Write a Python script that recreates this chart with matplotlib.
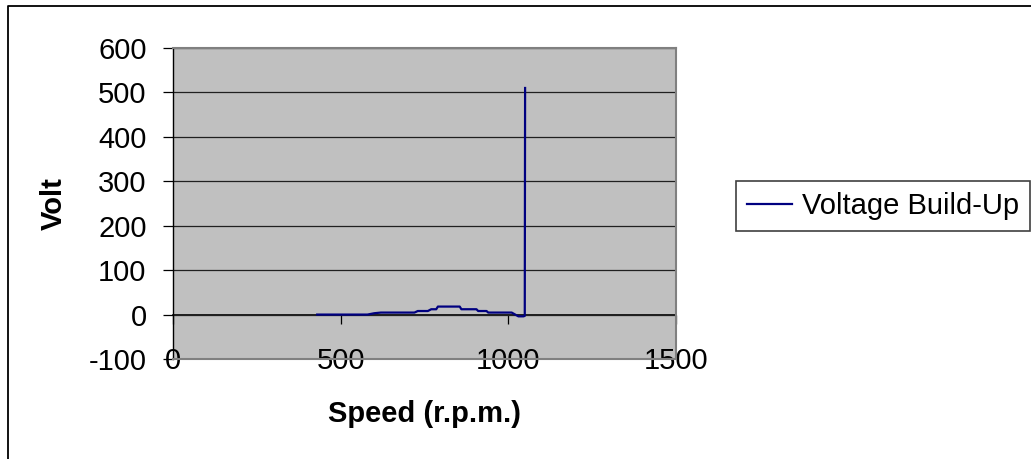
import matplotlib
matplotlib.use("Agg")
import matplotlib.pyplot as plt
from matplotlib.lines import Line2D

# generator speed (r.p.m.) and terminal voltage (V) during self-excitation
speed = [430, 500, 580, 600, 620, 700, 720, 730, 760, 770, 785, 790, 855, 860,
         905, 910, 935, 940, 1010, 1030, 1045, 1049, 1050]
volt = [0, 0, 0, 3, 4.5, 4.5, 4.5, 8, 8, 12, 12, 18, 18, 12,
        12, 8, 8, 4.5, 4.5, -4, -4, -3, 510]

series_name = "Voltage Build-Up"
x_label = "Speed (r.p.m.)"
y_label = "Volt"
x_ticks = [0, 500, 1000, 1500]
y_ticks = [-100, 0, 100, 200, 300, 400, 500, 600]

W, H = 1031, 459
FS = 21

plt.rcParams["font.family"] = ["Liberation Sans", "DejaVu Sans"]
plt.rcParams["axes.unicode_minus"] = False

fig = plt.figure(figsize=(W / 100, H / 100), dpi=100)
ax = fig.add_axes([173 / W, 1 - 359 / H, (676 - 173) / W, (359 - 48) / H])
ax.set_facecolor("#C0C0C0")

line, = ax.plot(speed, volt, color="#000080", lw=1.6, solid_joinstyle="round")

ax.set_xlim(0, 1500)
ax.set_ylim(-100, 600)
ax.set_xticks(x_ticks)
ax.set_yticks(y_ticks)
ax.grid(axis="y", color="#202020", lw=0.9)
ax.set_axisbelow(True)

for side in ("top", "right", "bottom"):
    ax.spines[side].set_color("#808080")
    ax.spines[side].set_linewidth(1.5)
ax.spines["left"].set_color("black")
ax.spines["left"].set_linewidth(1.0)

ax.tick_params(axis="y", direction="out", length=7, width=0.9, pad=12,
               labelsize=FS, color="black")
ax.tick_params(axis="x", length=0, pad=-8.6, labelsize=FS)

# category axis crossing at zero volts, carrying the tick marks
sec = ax.secondary_xaxis(1 / 7)
sec.set_xticks(x_ticks)
sec.xaxis.set_ticks_position("bottom")
sec.tick_params(axis="x", direction="out", length=6.5, width=0.9,
                labelbottom=False, labeltop=False, color="black")
for s in sec.spines.values():
    s.set_color("black")
    s.set_linewidth(1.2)

ax.set_xlabel(x_label, fontsize=FS, fontweight="bold", va="top")
ax.xaxis.set_label_coords(0.5, (359 - 400) / 311)
ax.set_ylabel(y_label, fontsize=FS, fontweight="bold", va="center")
ax.yaxis.set_label_coords((54 - 173) / 503, 0.5)

leg = fig.legend([line], [series_name], loc="upper left",
                 bbox_to_anchor=(736 / W, 1 - 181 / H), borderaxespad=0,
                 fontsize=FS, frameon=True, fancybox=False, framealpha=1,
                 edgecolor="#404040", handlelength=1.54, handletextpad=0.34,
                 borderpad=0.37)
leg.get_frame().set_linewidth(1.2)

# chart area border
fig.add_artist(Line2D([7.5 / W, 7.5 / W, 1.01], [-0.01, 1 - 5.5 / H, 1 - 5.5 / H],
                      transform=fig.transFigure, color="black", lw=1.3))

fig.savefig("out.png", dpi=100)
